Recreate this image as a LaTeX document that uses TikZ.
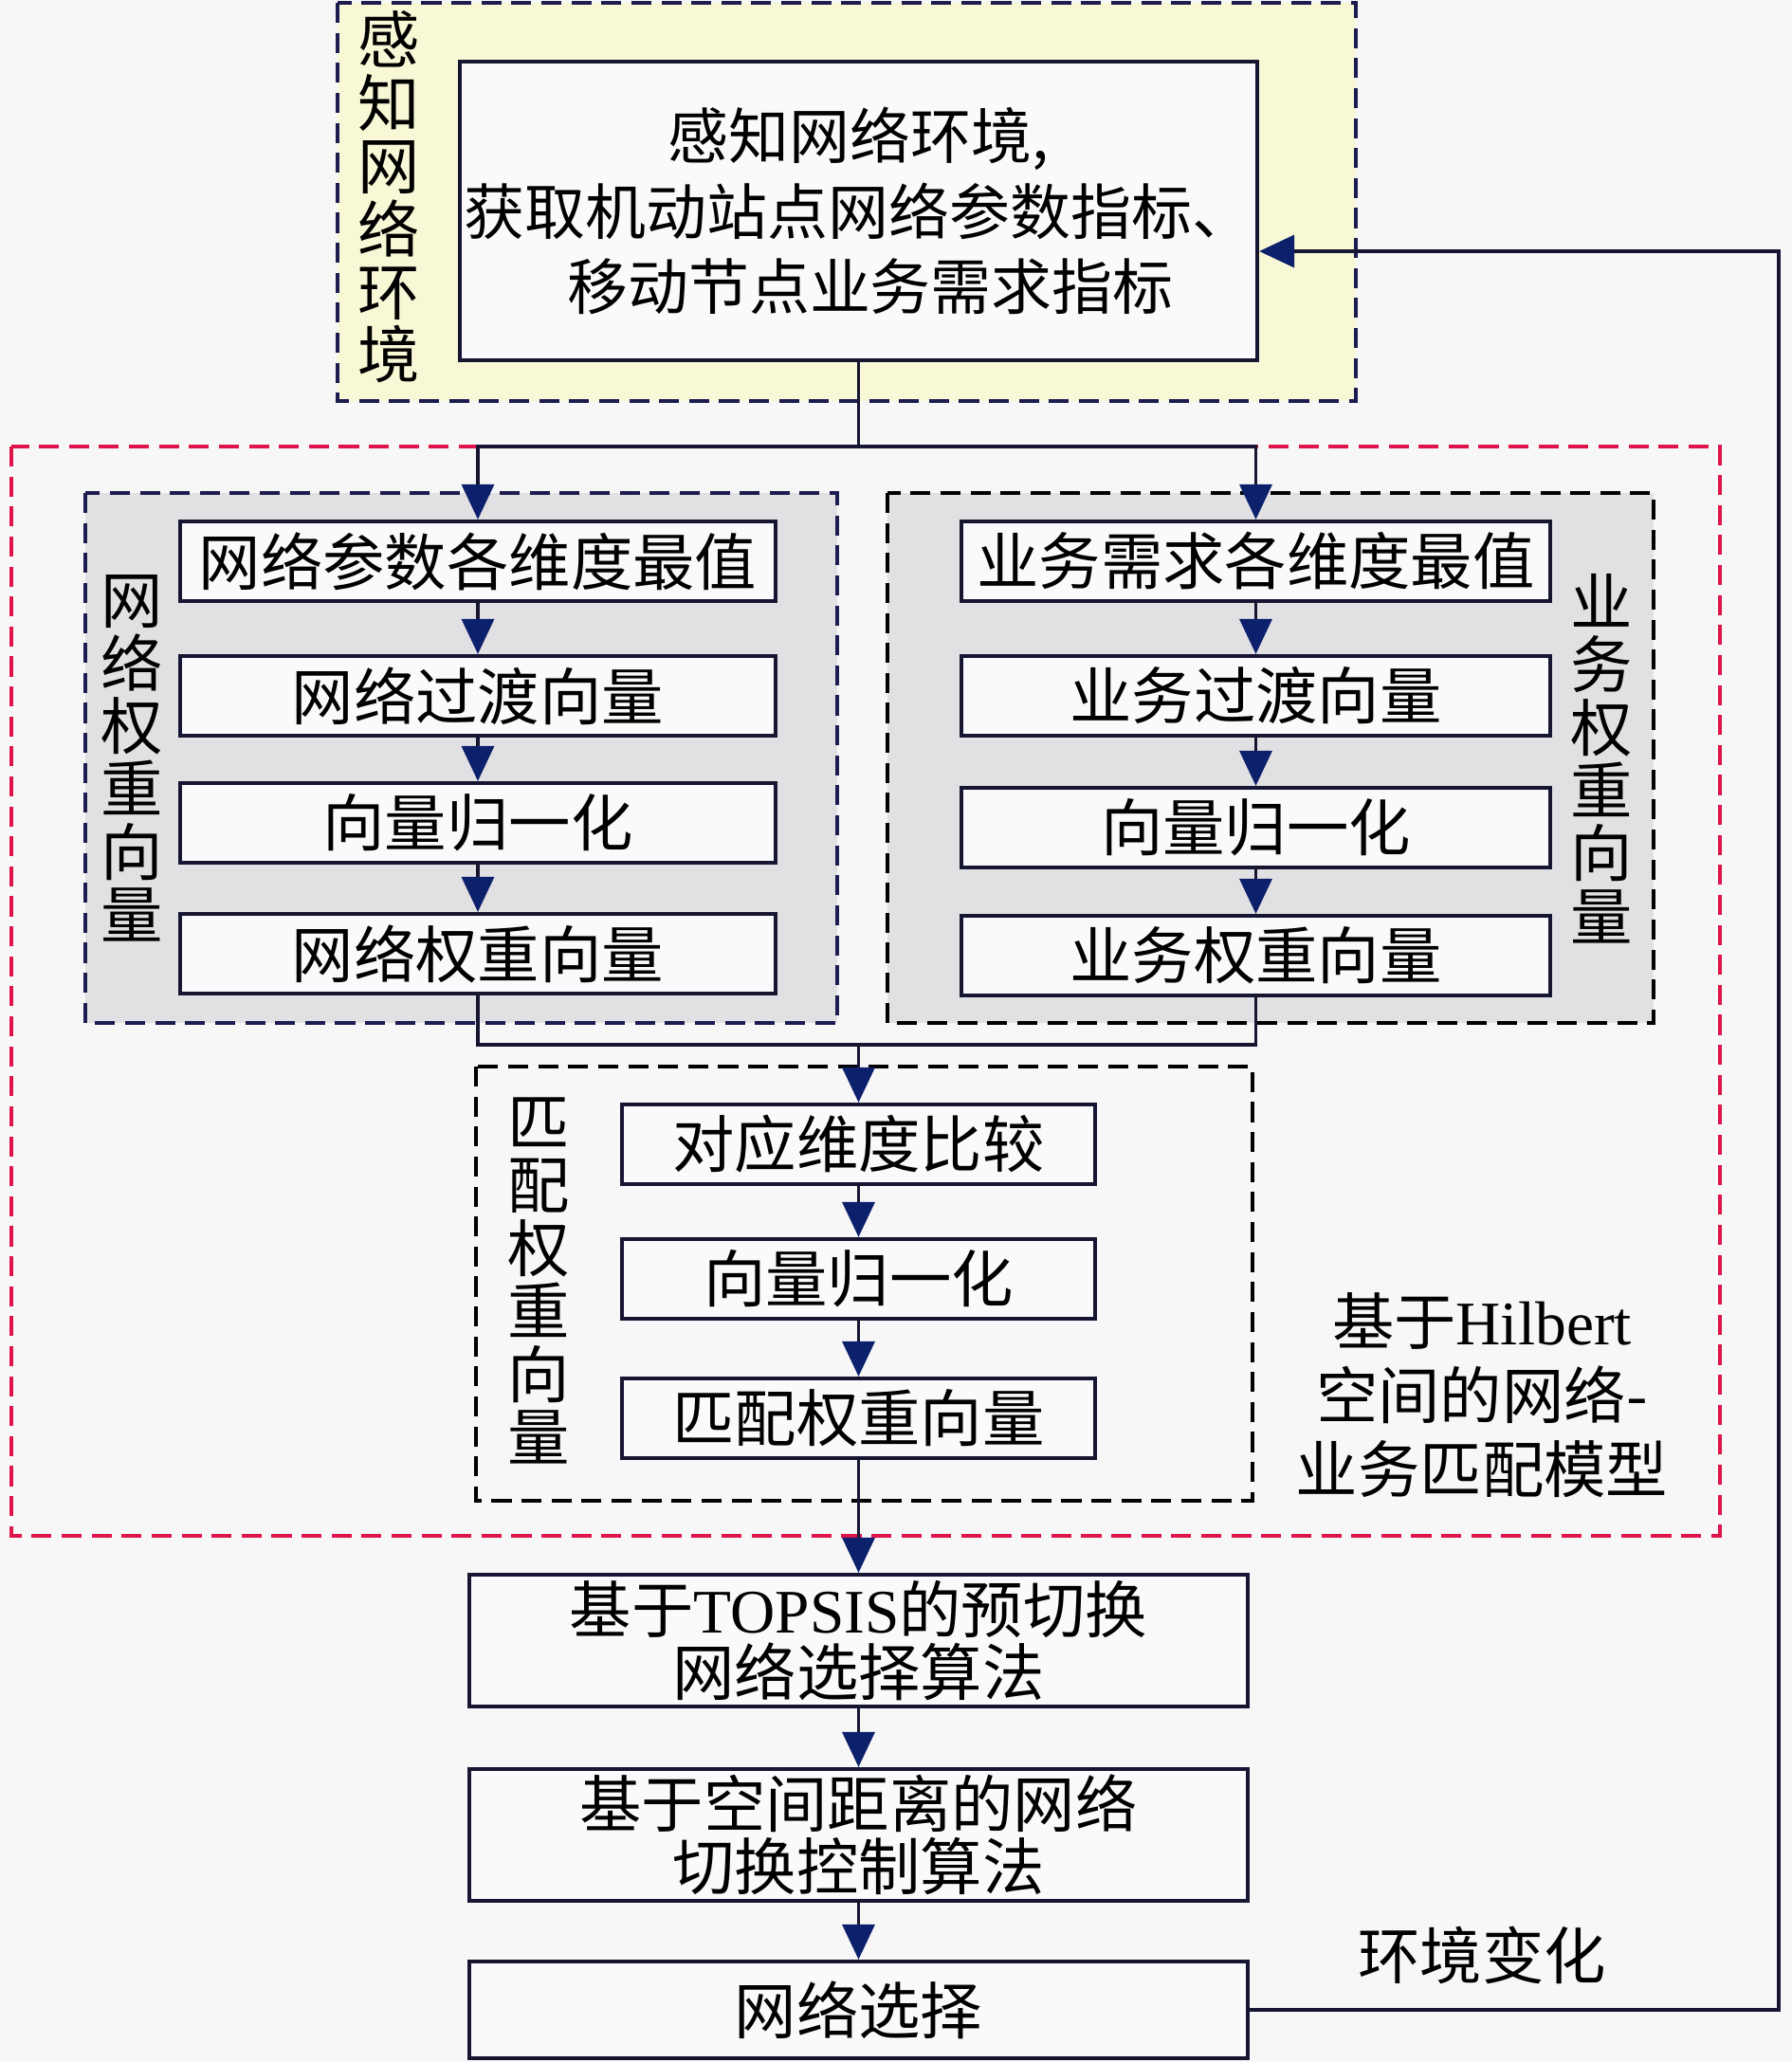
\documentclass[tikz,border=0pt]{standalone}
\usepackage{fontspec}
\setmainfont{Liberation Serif}
\newfontfamily\cjk{Noto Sans CJK SC}
\usepackage{tikz}
\usetikzlibrary{arrows.meta,positioning}
\definecolor{bgcol}{RGB}{247,247,248}
\definecolor{yelfill}{RGB}{248,248,214}
\definecolor{grayfill}{RGB}{225,225,227}
\definecolor{boxfill}{RGB}{250,250,252}
\definecolor{navyline}{RGB}{28,28,80}
\definecolor{boxline}{RGB}{22,22,50}
\definecolor{arrnavy}{RGB}{12,32,108}
\definecolor{redline}{RGB}{222,20,75}
\tikzset{
  flnode/.style = {align=center, inner sep=0pt, text centered,
    font=\cjk\fontsize{18.6}{18.9}\selectfont},
  fl_box/.style = {flnode, rectangle, draw=boxline, fill=boxfill,
    line width=1.2pt, minimum height=0.84cm},% boite du flux
  fl_lab/.style = {flnode},% etiquette verticale
  grp_dash/.style = {line width=1.2pt, dash pattern=on 6pt off 3pt},
  grp_y/.style = {grp_dash, draw=navyline, fill=yelfill},% groupe jaune
  grp_g/.style = {grp_dash, draw=navyline, fill=grayfill},% groupe gris
  grp_w/.style = {grp_dash, draw=black},% groupe sans fond
  grp_r/.style = {grp_dash, draw=redline},% modele
  link/.style = {draw=boxline, line width=1pt}
}
\begin{document}
\begin{tikzpicture}[>={Triangle[length=0.37cm,width=0.34cm,color=arrnavy]}]
\path[use as bounding box, fill=bgcol] (0,0) rectangle (18.9,-21.75);

% groupes
\draw[grp_y] (3.56,-0.03) rectangle (14.30,-4.23);
\draw[grp_r] (0.12,-4.71) rectangle (18.14,-16.20);
\draw[grp_g] (0.90,-5.20) rectangle (8.83,-10.79);
\draw[grp_g, draw=black] (9.36,-5.20) rectangle (17.44,-10.79);
\draw[grp_w] (5.02,-11.25) rectangle (13.21,-15.83);

% perception
\node [fl_box, minimum width=8.41cm, minimum height=3.15cm,
  font=\cjk\fontsize{18.2}{22.7}\selectfont] (sense) at (9.055,-2.225)
  {感知网络环境,\\获取机动站点网络参数指标、\\\hspace{0.25cm}移动节点业务需求指标};
\node [fl_lab] (senselab) at (4.10,-2.08) {感\\知\\网\\络\\环\\境};

% poids reseau
\node [fl_box, minimum width=6.28cm] (net1) at (5.04,-5.92) {网络参数各维度最值};
\node [fl_box, minimum width=6.28cm] (net2) at (5.04,-7.34) {网络过渡向量};
\node [fl_box, minimum width=6.28cm] (net3) at (5.04,-8.68) {向量归一化};
\node [fl_box, minimum width=6.28cm] (net4) at (5.04,-10.06) {网络权重向量};
\node [fl_lab] (netlab) at (1.39,-8.00) {网\\络\\权\\重\\向\\量};

% poids service
\node [fl_box, minimum width=6.21cm] (srv1) at (13.245,-5.92) {业务需求各维度最值};
\node [fl_box, minimum width=6.21cm] (srv2) at (13.245,-7.34) {业务过渡向量};
\node [fl_box, minimum width=6.21cm] (srv3) at (13.245,-8.73) {向量归一化};
\node [fl_box, minimum width=6.21cm] (srv4) at (13.245,-10.08) {业务权重向量};
\node [fl_lab] (srvlab) at (16.89,-8.00) {业\\务\\权\\重\\向\\量};

% poids de correspondance
\node [fl_box, minimum width=4.99cm] (mat1) at (9.055,-12.07) {对应维度比较};
\node [fl_box, minimum width=4.99cm] (mat2) at (9.055,-13.49) {向量归一化};
\node [fl_box, minimum width=4.99cm] (mat3) at (9.055,-14.96) {匹配权重向量};
\node [fl_lab] (matlab) at (5.68,-13.51) {匹\\配\\权\\重\\向\\量};
\node [flnode, font=\cjk\fontsize{18.6}{22.2}\selectfont] (model) at (15.63,-14.72)
  {基于{\rmfamily Hilbert}\\空间的网络-\\业务匹配模型};

% algorithmes
\node [fl_box, minimum width=8.21cm, minimum height=1.39cm,
  font=\cjk\fontsize{18.6}{19}\selectfont] (topsis) at (9.055,-17.305)
  {基于{\rmfamily TOPSIS}的预切换\\网络选择算法};
\node [fl_box, minimum width=8.21cm, minimum height=1.39cm] (dist) at (9.055,-19.355)
  {基于空间距离的网络\\切换控制算法};
\node [fl_box, minimum width=8.21cm, minimum height=1.02cm] (sel) at (9.055,-21.20) {网络选择};
\node [flnode] (envlab) at (15.63,-20.62) {环境变化};

% liaisons
\coordinate (split) at (9.055,-4.71);
\coordinate (join) at (9.055,-11.02);
\coordinate (back) at (18.76,-2.65);
\draw[link] (sense.south) -- (split);
\draw[link,->] (split) -| (net1.north);
\draw[link,->] (split) -| (srv1.north);
\draw[link,->] (net1) -- (net2);
\draw[link,->] (net2) -- (net3);
\draw[link,->] (net3) -- (net4);
\draw[link,->] (srv1) -- (srv2);
\draw[link,->] (srv2) -- (srv3);
\draw[link,->] (srv3) -- (srv4);
\draw[link] (net4.south) |- (join);
\draw[link] (srv4.south) |- (join);
\draw[link,->] (join) -- (mat1.north);
\draw[link,->] (mat1) -- (mat2);
\draw[link,->] (mat2) -- (mat3);
\draw[link,->] (mat3) -- (topsis);
\draw[link,->] (topsis) -- (dist);
\draw[link,->] (dist) -- (sel);
\draw[link,->] (sel.east) -| (back) -- (back -| sense.east);
\end{tikzpicture}
\end{document}
